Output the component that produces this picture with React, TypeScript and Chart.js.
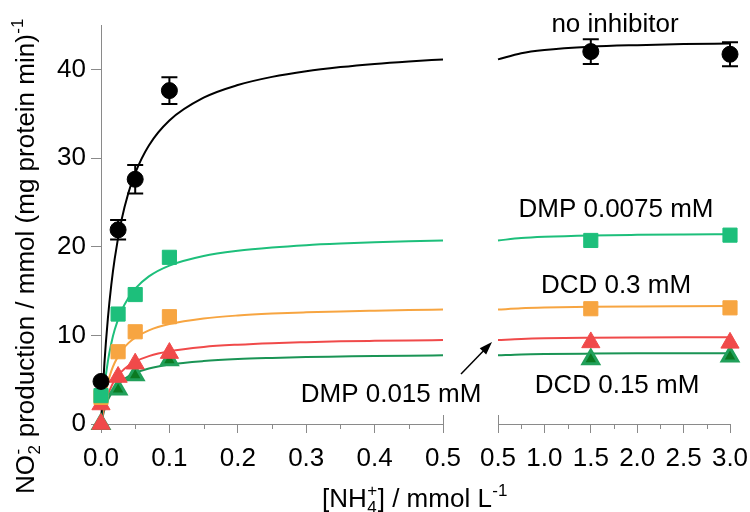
import React, { useEffect, useRef } from "react";
import { Chart, registerables } from "chart.js";
Chart.register(...registerables);

// ---- data ----
const markX = [0, 0.025, 0.05, 0.1, 1.5, 3.0];
const noInhibitor = [4.8, 21.9, 27.6, 37.6, 42.0, 41.7];
const noInhibitorErr = [0, 1.1, 1.6, 1.5, 1.4, 1.35];
const dmp0075 = [3.2, 12.4, 14.6, 18.8, 20.7, 21.3];
const dcd03 = [3.0, 8.15, 10.4, 12.1, 13.0, 13.1];
const dmp015X = [0, 0, 0.025, 0.05, 0.1, 1.5, 3.0];
const dmp015 = [0, 2.2, 5.3, 6.8, 8.0, 9.2, 9.15];
const dcd015 = [0, 3.9, 5.5, 7.2, 7.3, 7.6];

const fitX = [0, 0.005, 0.01, 0.015, 0.02, 0.03, 0.04, 0.05, 0.07, 0.1, 0.15, 0.2, 0.25, 0.3, 0.35, 0.4, 0.45, 0.5, 0.75, 1.0, 1.5, 2.0, 2.5, 3.0];
const fitNoInhibitor = [0, 6.87, 11.86, 15.65, 18.62, 22.99, 26.05, 28.3, 31.41, 34.23, 36.8, 38.23, 39.15, 39.79, 40.25, 40.61, 40.89, 41.12, 41.82, 42.18, 42.55, 42.73, 42.85, 42.92];
const fitDmp0075 = [0, 4.21, 7.04, 9.08, 10.62, 12.78, 14.22, 15.26, 16.65, 17.87, 18.95, 19.54, 19.91, 20.17, 20.35, 20.49, 20.61, 20.7, 20.97, 21.11, 21.26, 21.33, 21.37, 21.4];
const fitDcd03 = [0, 2.82, 4.66, 5.96, 6.91, 8.24, 9.12, 9.74, 10.56, 11.27, 11.9, 12.24, 12.45, 12.59, 12.7, 12.78, 12.85, 12.9, 13.05, 13.13, 13.22, 13.26, 13.28, 13.3];
const fitDmp015 = [0, 1.97, 3.28, 4.22, 4.93, 5.91, 6.57, 7.04, 7.66, 8.21, 8.69, 8.95, 9.12, 9.23, 9.32, 9.38, 9.43, 9.47, 9.59, 9.66, 9.72, 9.75, 9.77, 9.78];
const fitDcd015 = [0, 1.61, 2.68, 3.45, 4.03, 4.83, 5.37, 5.75, 6.26, 6.71, 7.1, 7.32, 7.45, 7.55, 7.61, 7.67, 7.71, 7.74, 7.84, 7.89, 7.94, 7.97, 7.98, 7.99];

const leftMajorTicks = [0, 0.1, 0.2, 0.3, 0.4, 0.5];
const leftMinorTicks = [0.05, 0.15, 0.25, 0.35, 0.45];
const rightMajorTicks = [0.5, 1.0, 1.5, 2.0, 2.5, 3.0];
const rightMinorTicks = [0.75, 1.25, 1.75, 2.25, 2.75];
const yTicks = [0, 10, 20, 30, 40];

// ---- styles ----
const FONT = '"Liberation Sans", Arial, sans-serif';
const AXIS = "#8a8a8a";
const BLACK = "#000000";
const GREEN = "#1dbf7b";
const ORANGE = "#f7a541";
const RED = "#f04a4a";
const DKGREEN_FILL = "#0b7a22";
const DKGREEN_EDGE = "#21a05a";
const DKGREEN_LINE = "#1a9455";
const RIGHT_CANVAS_W = 800;

type Part = { t: string; k?: "sub" | "sup" | "subsup"; s?: string };

function drawRich(ctx: CanvasRenderingContext2D, parts: Part[], cx: number, by: number, size: number) {
  const main = `${size}px ${FONT}`;
  const small = `${Math.round(size * 0.66)}px ${FONT}`;
  const widths: number[] = [];
  let total = 0;
  for (const p of parts) {
    let w = 0;
    if (!p.k) {
      ctx.font = main;
      w = ctx.measureText(p.t).width;
    } else if (p.k === "subsup") {
      ctx.font = small;
      w = Math.max(ctx.measureText(p.t).width, ctx.measureText(p.s || "").width) + 1;
    } else {
      ctx.font = small;
      w = ctx.measureText(p.t).width + 1;
    }
    widths.push(w);
    total += w;
  }
  let x = cx - total / 2;
  ctx.textAlign = "left";
  ctx.textBaseline = "alphabetic";
  ctx.fillStyle = BLACK;
  parts.forEach((p, i) => {
    if (!p.k) {
      ctx.font = main;
      ctx.fillText(p.t, x, by);
    } else if (p.k === "sub") {
      ctx.font = small;
      ctx.fillText(p.t, x + 0.5, by + size * 0.22);
    } else if (p.k === "sup") {
      ctx.font = small;
      ctx.fillText(p.t, x + 0.5, by - size * 0.42);
    } else {
      ctx.font = small;
      ctx.fillText(p.t, x + 0.5, by + size * 0.22);
      ctx.fillText(p.s || "", x + 0.5, by - size * 0.42);
    }
    x += widths[i];
  });
}

function pts(xs: number[], ys: number[], lo: number, hi: number) {
  return xs
    .map((x, i) => ({ x, y: ys[i] }))
    .filter((p) => p.x >= lo - 1e-9 && p.x <= hi + 1e-9);
}

function makeConfig(side: "left" | "right"): any {
  const lo = side === "left" ? 0 : 0.5;
  const hi = side === "left" ? 0.5 : 3.0;
  const majors = side === "left" ? leftMajorTicks : rightMajorTicks;
  const minors = side === "left" ? leftMinorTicks : rightMinorTicks;

  const curve = (ys: number[], color: string, order: number) => ({
    data: pts(fitX, ys, lo, hi),
    showLine: true,
    borderColor: color,
    borderWidth: 2,
    pointRadius: 0,
    cubicInterpolationMode: "monotone",
    fill: false,
    clip: false,
    order,
  });
  const marks = (xs: number[], ys: number[], style: string, r: number, fillC: string, edge: string, bw: number, order: number) => ({
    data: pts(xs, ys, lo, hi),
    showLine: false,
    pointStyle: style,
    pointRadius: r,
    backgroundColor: fillC,
    borderColor: edge,
    borderWidth: bw,
    clip: false,
    order,
  });

  const datasets = [
    marks(markX, noInhibitor, "circle", 8, BLACK, BLACK, 1, 0),
    marks(markX, dmp0075, "rect", 10, GREEN, GREEN, 1, 1),
    marks(markX, dcd03, "rect", 10, ORANGE, ORANGE, 1, 2),
    marks(dmp015X, dmp015, "triangle", 10.5, RED, RED, 1, 3),
    marks(markX, dcd015, "triangle", 9, DKGREEN_FILL, DKGREEN_EDGE, 3, 4),
    curve(fitNoInhibitor, BLACK, 10),
    curve(fitDmp0075, GREEN, 11),
    curve(fitDcd03, ORANGE, 12),
    curve(fitDmp015, RED, 13),
    curve(fitDcd015, DKGREEN_LINE, 14),
  ];

  const extras = {
    id: "extras_" + side,
    afterDraw(chart: any) {
      const ctx: CanvasRenderingContext2D = chart.ctx;
      const xs = chart.scales.x;
      const ys = chart.scales.y;
      const bottom = chart.chartArea.bottom;
      ctx.save();
      // minor ticks
      ctx.strokeStyle = AXIS;
      ctx.lineWidth = 1;
      for (const v of minors) {
        const px = Math.round(xs.getPixelForValue(v)) + 0.5;
        ctx.beginPath();
        ctx.moveTo(px, bottom);
        ctx.lineTo(px, bottom + 5);
        ctx.stroke();
      }
      // break caps at 0.5
      {
        const px = Math.round(xs.getPixelForValue(0.5)) + 0.5;
        ctx.beginPath();
        ctx.moveTo(px, bottom - 9);
        ctx.lineTo(px, bottom);
        ctx.stroke();
      }
      // error bars
      ctx.strokeStyle = BLACK;
      ctx.lineWidth = 2;
      markX.forEach((xv, i) => {
        if (xv < lo - 1e-9 || xv > hi + 1e-9) return;
        const e = noInhibitorErr[i];
        if (!e) return;
        const px = xs.getPixelForValue(xv);
        const y1 = ys.getPixelForValue(noInhibitor[i] + e);
        const y2 = ys.getPixelForValue(noInhibitor[i] - e);
        ctx.beginPath();
        ctx.moveTo(px, y1);
        ctx.lineTo(px, y2);
        ctx.moveTo(px - 8, y1);
        ctx.lineTo(px + 8, y1);
        ctx.moveTo(px - 8, y2);
        ctx.lineTo(px + 8, y2);
        ctx.stroke();
      });

      if (side === "left") {
        // y title
        ctx.save();
        ctx.translate(34, 256);
        ctx.rotate(-Math.PI / 2);
        drawRich(
          ctx,
          [
            { t: "NO" },
            { t: "2", k: "subsup", s: "-" },
            { t: " production / mmol (mg protein min)" },
            { t: "-1", k: "sup" },
          ],
          0,
          0,
          26
        );
        ctx.restore();
        // x title
        drawRich(
          ctx,
          [
            { t: "[NH" },
            { t: "4", k: "subsup", s: "+" },
            { t: "] / mmol L" },
            { t: "-1", k: "sup" },
          ],
          415,
          507,
          26
        );
        drawRich(ctx, [{ t: "DMP 0.015 mM" }], 391, 402, 26);
        // arrow
        const tx = 492, ty = 342, sx = 461, sy = 374;
        const ang = Math.atan2(ty - sy, tx - sx);
        ctx.strokeStyle = BLACK;
        ctx.fillStyle = BLACK;
        ctx.lineWidth = 1.5;
        ctx.beginPath();
        ctx.moveTo(sx, sy);
        ctx.lineTo(tx - Math.cos(ang) * 8, ty - Math.sin(ang) * 8);
        ctx.stroke();
        ctx.beginPath();
        ctx.moveTo(tx, ty);
        ctx.lineTo(tx - Math.cos(ang) * 13 + Math.sin(ang) * 4.5, ty - Math.sin(ang) * 13 - Math.cos(ang) * 4.5);
        ctx.lineTo(tx - Math.cos(ang) * 13 - Math.sin(ang) * 4.5, ty - Math.sin(ang) * 13 + Math.cos(ang) * 4.5);
        ctx.closePath();
        ctx.fill();
      } else {
        drawRich(ctx, [{ t: "no inhibitor" }], 615, 32, 26);
        drawRich(ctx, [{ t: "DMP 0.0075 mM" }], 616, 217, 26);
        drawRich(ctx, [{ t: "DCD 0.3 mM" }], 616, 293, 26);
        drawRich(ctx, [{ t: "DCD 0.15 mM" }], 617, 393, 26);
      }
      ctx.restore();
    },
  };

  const tickFont = { family: FONT, size: 26 };

  return {
    type: "scatter",
    data: { datasets },
    options: {
      animation: false,
      responsive: false,
      events: [],
      layout: {
        padding:
          side === "left"
            ? { left: 0, right: 750 - 443, top: 25, bottom: 0 }
            : { left: 498, right: RIGHT_CANVAS_W - 730, top: 25, bottom: 0 },
      },
      plugins: { legend: { display: false }, tooltip: { enabled: false } },
      scales: {
        x: {
          type: "linear",
          min: lo,
          max: hi,
          afterFit: (s: any) => {
            s.height = 88;
          },
          afterBuildTicks: (s: any) => {
            s.ticks = majors.map((v) => ({ value: v }));
          },
          ticks: {
            font: tickFont,
            color: BLACK,
            padding: 10,
            maxRotation: 0,
            autoSkip: false,
            callback: (v: any) => Number(v).toFixed(1),
          },
          grid: { drawOnChartArea: false, drawTicks: true, tickLength: 9, color: AXIS, lineWidth: 1 },
          border: { display: true, color: AXIS, width: 1 },
        },
        y: {
          type: "linear",
          min: 0,
          max: 45,
          display: side === "left",
          afterFit: (s: any) => {
            if (side === "left") s.width = 101;
          },
          afterBuildTicks: (s: any) => {
            s.ticks = yTicks.map((v) => ({ value: v }));
          },
          ticks: { font: tickFont, color: BLACK, padding: 5 },
          grid: { drawOnChartArea: false, drawTicks: true, tickLength: 10, color: AXIS, lineWidth: 1 },
          border: { display: true, color: AXIS, width: 1 },
        },
      },
    },
    plugins: [extras],
  };
}

export default function App() {
  const leftRef = useRef<HTMLCanvasElement>(null);
  const rightRef = useRef<HTMLCanvasElement>(null);
  useEffect(() => {
    const c1 = new Chart(leftRef.current as HTMLCanvasElement, makeConfig("left"));
    const c2 = new Chart(rightRef.current as HTMLCanvasElement, makeConfig("right"));
    return () => {
      c1.destroy();
      c2.destroy();
    };
  }, []);
  return (
    <div style={{ position: "fixed", left: 0, top: 0, width: 750, height: 512, background: "#fff", overflow: "hidden" }}>
      <canvas
        ref={leftRef}
        width={750}
        height={512}
        style={{ position: "absolute", left: 0, top: 0, width: 750, height: 512 }}
      />
      <canvas
        ref={rightRef}
        width={RIGHT_CANVAS_W}
        height={512}
        style={{ position: "absolute", left: 0, top: 0, width: RIGHT_CANVAS_W, height: 512 }}
      />
    </div>
  );
}
